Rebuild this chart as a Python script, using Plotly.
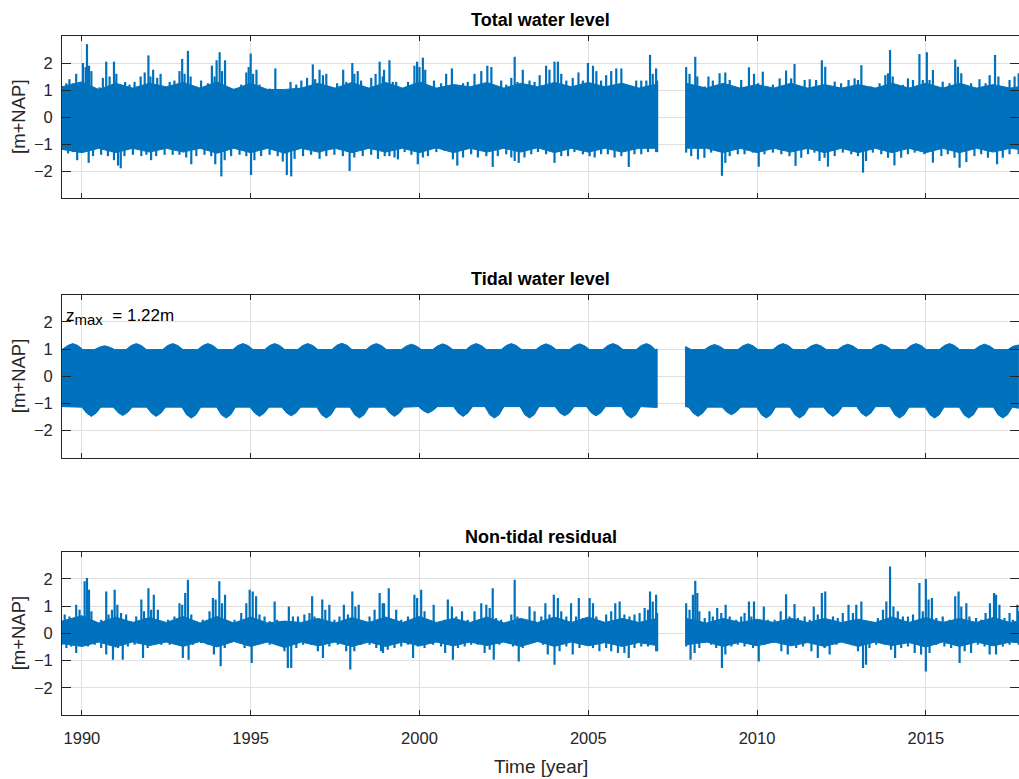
import plotly.graph_objects as go

# ---------------- data ----------------
# Envelope readings of the dense hourly series; None marks the data gap (2007-2008)
# Panel 1: total water level [m+NAP] -- local maxima / minima
total_up_t = [1989.41, 1989.54, 1989.63, 1989.73, 1989.83, 1989.93, 1990.03, 1990.11, 1990.15, 1990.21,
              1990.28, 1990.38, 1990.52, 1990.62, 1990.72, 1990.82, 1990.95, 1991.02, 1991.12, 1991.28,
              1991.41, 1991.56, 1991.74, 1991.86, 1991.97, 1992.03, 1992.11, 1992.23, 1992.33, 1992.40,
              1992.60, 1992.74, 1992.89, 1992.97, 1993.04, 1993.14, 1993.22, 1993.34, 1993.53, 1993.73,
              1993.85, 1993.93, 1993.99, 1994.08, 1994.15, 1994.24, 1994.32, 1994.52, 1994.72, 1994.87,
              1994.94, 1995.00, 1995.07, 1995.17, 1995.26, 1995.36, 1995.56, 1995.73, 1995.80, 1996.00,
              1996.18, 1996.35, 1996.50, 1996.67, 1996.84, 1996.91, 1997.04, 1997.14, 1997.24, 1997.38,
              1997.56, 1997.74, 1997.83, 1998.01, 1998.07, 1998.17, 1998.27, 1998.42, 1998.57, 1998.70,
              1998.82, 1998.91, 1998.95, 1999.11, 1999.21, 1999.31, 1999.46, 1999.66, 1999.85, 1999.93,
              2000.00, 2000.10, 2000.17, 2000.30, 2000.43, 2000.64, 2000.79, 2000.96, 2001.09, 2001.29,
              2001.43, 2001.63, 2001.83, 2002.01, 2002.13, 2002.24, 2002.42, 2002.57, 2002.72, 2002.82,
              2002.90, 2003.06, 2003.26, 2003.41, 2003.56, 2003.75, 2003.85, 2004.00, 2004.10, 2004.20,
              2004.35, 2004.54, 2004.71, 2004.84, 2004.99, 2005.14, 2005.24, 2005.38, 2005.53, 2005.68,
              2005.83, 2005.98, 2006.12, 2006.27, 2006.42, 2006.57, 2006.72, 2006.83, 2006.91, 2007.01,
              2007.04, None,
              2007.90, 2008.00, 2008.17, 2008.23, 2008.34, 2008.45, 2008.56, 2008.69, 2008.89, 2009.06,
              2009.19, 2009.33, 2009.53, 2009.76, 2009.91, 2010.03, 2010.17, 2010.27, 2010.47, 2010.67,
              2010.86, 2011.01, 2011.11, 2011.21, 2011.41, 2011.56, 2011.75, 2011.92, 2012.02, 2012.10,
              2012.30, 2012.49, 2012.71, 2012.89, 2012.99, 2013.09, 2013.18, 2013.38, 2013.63, 2013.80,
              2013.88, 2013.94, 2014.02, 2014.17, 2014.32, 2014.47, 2014.62, 2014.81, 2014.91, 2015.03,
              2015.11, 2015.21, 2015.31, 2015.50, 2015.70, 2015.87, 2015.95, 2016.05, 2016.15, 2016.34,
              2016.59, 2016.77, 2016.89, 2017.05, 2017.15, 2017.28, 2017.48, 2017.63, 2017.75]
total_up = [1.05, 1.25, 1.40, 1.25, 1.60, 1.30, 2.00, 1.85, 2.70, 1.90,
            1.70, 1.00, 1.10, 1.45, 2.05, 1.50, 2.05, 1.60, 0.95, 1.30,
            1.20, 1.30, 1.50, 1.65, 2.28, 1.50, 1.75, 1.45, 1.60, 1.05,
            1.30, 1.35, 1.70, 2.15, 1.60, 2.45, 1.50, 1.10, 1.35, 1.25,
            1.90, 1.50, 2.10, 2.40, 1.70, 2.10, 1.10, 1.05, 1.20, 1.65,
            1.85, 2.35, 1.60, 1.75, 1.20, 1.00, 1.05, 1.80, 1.00, 0.95,
            1.30, 1.20, 1.35, 1.45, 1.95, 1.40, 1.75, 1.55, 1.60, 1.10,
            1.25, 1.75, 1.30, 2.00, 1.60, 1.70, 1.35, 1.10, 1.45, 1.60,
            2.05, 1.50, 1.75, 2.10, 1.30, 1.30, 1.05, 1.30, 1.90, 2.05,
            1.85, 2.20, 1.75, 0.80, 1.35, 1.25, 1.60, 1.80, 1.20, 1.25,
            1.30, 1.60, 1.70, 1.90, 1.85, 1.10, 1.35, 1.20, 1.45, 2.23,
            1.30, 1.75, 1.35, 1.30, 1.55, 1.90, 1.75, 2.05, 2.05, 1.60,
            1.35, 1.45, 1.65, 1.35, 2.00, 1.90, 1.70, 1.35, 1.55, 1.70,
            1.80, 1.80, 1.10, 1.10, 1.35, 1.35, 1.35, 2.30, 1.60, 1.80,
            1.35, None,
            1.85, 1.60, 2.23, 1.50, 0.90, 1.13, 1.50, 1.35, 1.62, 1.65,
            1.37, 1.07, 1.37, 1.84, 1.60, 1.25, 1.68, 1.07, 1.20, 1.43,
            1.72, 1.43, 1.96, 1.07, 1.37, 1.40, 1.37, 2.10, 1.86, 0.76,
            1.31, 1.25, 1.37, 1.43, 1.37, 1.92, 1.07, 1.13, 1.25, 1.55,
            1.62, 2.48, 1.50, 1.19, 1.19, 1.43, 1.37, 2.33, 1.37, 2.40,
            1.37, 1.74, 1.13, 1.31, 1.25, 2.13, 1.86, 1.62, 1.19, 1.25,
            1.40, 1.25, 1.55, 2.30, 1.50, 1.13, 1.37, 1.50, 1.62]
total_lo_t = [1989.41, 1989.59, 1989.73, 1989.86, 1990.03, 1990.20, 1990.33, 1990.57, 1990.77, 1990.95,
              1991.07, 1991.15, 1991.26, 1991.51, 1991.76, 1991.91, 1992.05, 1992.20, 1992.45, 1992.69,
              1992.89, 1993.09, 1993.24, 1993.39, 1993.63, 1993.83, 1993.95, 1994.13, 1994.23, 1994.42,
              1994.67, 1994.87, 1995.01, 1995.11, 1995.31, 1995.56, 1995.80, 1995.95, 1996.07, 1996.20,
              1996.30, 1996.55, 1996.79, 1997.04, 1997.24, 1997.48, 1997.73, 1997.93, 1998.07, 1998.32,
              1998.57, 1998.77, 1998.97, 1999.11, 1999.26, 1999.36, 1999.56, 1999.76, 1999.95, 2000.10,
              2000.25, 2000.50, 2000.74, 2000.99, 2001.12, 2001.29, 2001.53, 2001.73, 2001.98, 2002.17,
              2002.32, 2002.57, 2002.72, 2002.82, 2002.94, 2003.11, 2003.31, 2003.51, 2003.75, 2004.00,
              2004.20, 2004.40, 2004.59, 2004.84, 2005.04, 2005.19, 2005.38, 2005.58, 2005.78, 2005.98,
              2006.20, 2006.37, 2006.57, 2006.77, 2007.01, 2007.04, None,
              2007.90, 2008.05, 2008.25, 2008.44, 2008.64, 2008.79, 2008.96, 2009.06, 2009.19, 2009.43,
              2009.63, 2009.88, 2010.05, 2010.22, 2010.47, 2010.72, 2010.96, 2011.14, 2011.31, 2011.51,
              2011.70, 2011.85, 2012.00, 2012.10, 2012.30, 2012.54, 2012.79, 2012.99, 2013.14, 2013.23,
              2013.43, 2013.68, 2013.88, 2014.07, 2014.27, 2014.47, 2014.67, 2014.96, 2015.21, 2015.46,
              2015.65, 2015.85, 2016.00, 2016.20, 2016.44, 2016.64, 2016.84, 2017.11, 2017.28, 2017.48,
              2017.75]
total_lo = [-1.20, -1.35, -1.30, -1.60, -1.30, -1.70, -1.45, -1.40, -1.45, -1.60,
            -1.80, -1.90, -1.45, -1.40, -1.45, -1.40, -1.60, -1.45, -1.40, -1.40,
            -1.40, -1.50, -1.75, -1.45, -1.40, -1.45, -1.75, -2.20, -1.60, -1.45,
            -1.40, -1.45, -2.15, -1.60, -1.45, -1.40, -1.45, -1.65, -2.15, -2.20,
            -1.55, -1.45, -1.40, -1.55, -1.45, -1.40, -1.45, -2.00, -1.50, -1.45,
            -1.40, -1.55, -1.45, -1.45, -1.50, -1.57, -1.30, -1.40, -1.75, -1.50,
            -1.45, -1.30, -1.25, -1.57, -1.80, -1.50, -1.38, -1.50, -1.45, -1.85,
            -1.45, -1.38, -1.50, -1.63, -1.70, -1.50, -1.38, -1.30, -1.38, -1.70,
            -1.45, -1.45, -1.30, -1.38, -1.45, -1.50, -1.38, -1.38, -1.50, -1.45,
            -1.85, -1.38, -1.38, -1.30, -1.30, -1.30, None,
            -1.32, -1.45, -1.57, -1.51, -1.32, -1.26, -2.18, -1.70, -1.45, -1.38,
            -1.38, -1.32, -1.84, -1.38, -1.32, -1.38, -1.45, -1.81, -1.51, -1.38,
            -1.32, -1.63, -1.51, -1.84, -1.45, -1.32, -1.38, -1.45, -2.06, -1.63,
            -1.32, -1.38, -1.51, -1.79, -1.51, -1.38, -1.32, -1.38, -1.69, -1.45,
            -1.38, -1.51, -1.88, -1.67, -1.45, -1.38, -1.51, -1.75, -1.51, -1.38,
            -1.38]
# dense (solid-looking) part of the total water level band, winter / summer
total_core_t = [1989.41, 1990.0, 1990.5, 1991.0, 1991.5, 1992.0, 1992.5, 1993.0, 1993.5, 1994.0,
                1994.5, 1995.0, 1995.5, 1996.0, 1996.5, 1997.0, 1997.5, 1998.0, 1998.5, 1999.0,
                1999.5, 2000.0, 2000.5, 2001.0, 2001.5, 2002.0, 2002.5, 2003.0, 2003.5, 2004.0,
                2004.5, 2005.0, 2005.5, 2006.0, 2006.5, 2007.04, None,
                2007.90, 2008.5, 2009.0, 2009.5, 2010.0, 2010.5, 2011.0, 2011.5, 2012.0, 2012.5,
                2013.0, 2013.5, 2014.0, 2014.5, 2015.0, 2015.5, 2016.0, 2016.5, 2017.0, 2017.5, 2017.75]
total_core_up = [1.12, 1.30, 1.02, 1.25, 1.07, 1.25, 1.12, 1.28, 1.07, 1.30,
                 1.02, 1.25, 1.02, 1.02, 1.07, 1.25, 1.07, 1.28, 1.07, 1.28,
                 1.07, 1.30, 1.07, 1.20, 1.12, 1.28, 1.07, 1.25, 1.12, 1.28,
                 1.12, 1.28, 1.12, 1.25, 1.07, 1.22, None,
                 1.25, 1.07, 1.25, 1.07, 1.20, 1.07, 1.25, 1.07, 1.20, 1.07,
                 1.20, 1.07, 1.25, 1.07, 1.25, 1.07, 1.25, 1.07, 1.20, 1.07, 1.12]
total_core_lo = [-1.20, -1.32, -1.16, -1.32, -1.16, -1.30, -1.16, -1.30, -1.16, -1.34,
                 -1.16, -1.32, -1.16, -1.34, -1.16, -1.30, -1.16, -1.32, -1.16, -1.30,
                 -1.16, -1.32, -1.14, -1.32, -1.16, -1.30, -1.16, -1.30, -1.14, -1.32,
                 -1.16, -1.30, -1.16, -1.30, -1.16, -1.16, None,
                 -1.16, -1.16, -1.32, -1.16, -1.32, -1.16, -1.30, -1.16, -1.32, -1.16,
                 -1.32, -1.16, -1.32, -1.16, -1.32, -1.16, -1.32, -1.16, -1.30, -1.16, -1.20]

# Panel 2: tidal water level [m+NAP] -- upper / lower envelope
tide_up_t = [1989.41, 1989.58, 1989.73, 1989.88, 1990.03,
             1990.37, 1990.52, 1990.67, 1990.82, 1990.97,
             1991.31, 1991.46, 1991.61, 1991.76, 1991.91,
             1992.39, 1992.54, 1992.69, 1992.84, 1992.99,
             1993.43, 1993.58, 1993.73, 1993.88, 1994.03,
             1994.47, 1994.62, 1994.77, 1994.92, 1995.07,
             1995.41, 1995.56, 1995.71, 1995.86, 1996.01,
             1996.39, 1996.54, 1996.69, 1996.84, 1996.99,
             1997.40, 1997.55, 1997.70, 1997.85, 1998.00,
             1998.42, 1998.57, 1998.72, 1998.87, 1999.02,
             1999.46, 1999.61, 1999.76, 1999.91, 2000.06,
             2000.39, 2000.54, 2000.69, 2000.84, 2000.99,
             2001.38, 2001.53, 2001.68, 2001.83, 2001.98,
             2002.42, 2002.57, 2002.72, 2002.87, 2003.02,
             2003.45, 2003.60, 2003.75, 2003.90, 2004.05,
             2004.44, 2004.59, 2004.74, 2004.89, 2005.04,
             2005.43, 2005.58, 2005.73, 2005.88, 2006.03,
             2006.42, 2006.57, 2006.72, 2006.86, 2006.98, 2007.04, None,
             2007.88, 2008.05,
             2008.44, 2008.59, 2008.74, 2008.89, 2009.04,
             2009.43, 2009.58, 2009.73, 2009.88, 2010.03,
             2010.47, 2010.62, 2010.77, 2010.92, 2011.07,
             2011.45, 2011.60, 2011.75, 2011.90, 2012.05,
             2012.39, 2012.54, 2012.69, 2012.84, 2012.99,
             2013.38, 2013.53, 2013.68, 2013.83, 2013.98,
             2014.41, 2014.56, 2014.71, 2014.86, 2015.01,
             2015.40, 2015.55, 2015.70, 2015.85, 2016.00,
             2016.44, 2016.59, 2016.74, 2016.89, 2017.04,
             2017.43, 2017.58, 2017.75]
tide_up = [0.98, 1.13, 1.20, 1.13, 0.98,
           0.98, 1.07, 1.12, 1.07, 0.98,
           0.98, 1.13, 1.20, 1.13, 0.98,
           0.98, 1.13, 1.20, 1.13, 0.98,
           0.98, 1.13, 1.20, 1.13, 0.98,
           0.98, 1.13, 1.20, 1.13, 0.98,
           0.98, 1.13, 1.20, 1.13, 0.98,
           0.98, 1.13, 1.20, 1.13, 0.98,
           0.98, 1.14, 1.21, 1.14, 0.98,
           0.98, 1.13, 1.20, 1.13, 0.98,
           0.98, 1.11, 1.18, 1.11, 0.98,
           0.98, 1.12, 1.19, 1.12, 0.98,
           0.98, 1.13, 1.20, 1.13, 0.98,
           0.98, 1.13, 1.20, 1.13, 0.98,
           0.98, 1.12, 1.19, 1.12, 0.98,
           0.98, 1.12, 1.19, 1.12, 0.98,
           0.98, 1.13, 1.20, 1.13, 0.98,
           0.98, 1.13, 1.20, 1.13, 0.98, 1.00, None,
           1.09, 0.98,
           0.98, 1.10, 1.17, 1.10, 0.98,
           0.98, 1.12, 1.19, 1.12, 0.98,
           0.98, 1.13, 1.20, 1.13, 0.98,
           0.98, 1.11, 1.18, 1.11, 0.98,
           0.98, 1.11, 1.18, 1.11, 0.98,
           0.98, 1.11, 1.18, 1.11, 0.98,
           0.98, 1.13, 1.20, 1.13, 0.98,
           0.98, 1.13, 1.20, 1.13, 0.98,
           0.98, 1.11, 1.18, 1.11, 0.98,
           0.98, 1.10, 1.15]
tide_lo_t = [1989.41, 1989.75,
             1990.00, 1990.14, 1990.28, 1990.42, 1990.56,
             1990.93, 1991.07, 1991.21, 1991.35, 1991.49,
             1991.92, 1992.06, 1992.20, 1992.34, 1992.48,
             1992.96, 1993.10, 1993.24, 1993.38, 1993.52,
             1993.99, 1994.13, 1994.27, 1994.41, 1994.55,
             1994.98, 1995.12, 1995.26, 1995.40, 1995.54,
             1995.92, 1996.06, 1996.20, 1996.34, 1996.48,
             1996.96, 1997.10, 1997.24, 1997.38, 1997.52,
             1997.94, 1998.08, 1998.22, 1998.36, 1998.50,
             1998.98, 1999.12, 1999.26, 1999.40, 1999.54,
             1999.97, 2000.11, 2000.25, 2000.39, 2000.53,
             2001.01, 2001.15, 2001.29, 2001.43, 2001.57,
             2001.94, 2002.08, 2002.22, 2002.36, 2002.50,
             2002.98, 2003.12, 2003.26, 2003.40, 2003.54,
             2004.02, 2004.16, 2004.30, 2004.44, 2004.58,
             2004.95, 2005.09, 2005.23, 2005.37, 2005.51,
             2005.99, 2006.13, 2006.27, 2006.41, 2006.55,
             2007.04, None,
             2007.88,
             2007.97, 2008.11, 2008.25, 2008.39, 2008.53,
             2008.96, 2009.10, 2009.24, 2009.38, 2009.52,
             2009.99, 2010.13, 2010.27, 2010.41, 2010.55,
             2010.98, 2011.12, 2011.26, 2011.40, 2011.54,
             2011.97, 2012.11, 2012.25, 2012.39, 2012.53,
             2012.95, 2013.09, 2013.23, 2013.37, 2013.51,
             2013.94, 2014.08, 2014.22, 2014.36, 2014.50,
             2014.98, 2015.12, 2015.26, 2015.40, 2015.54,
             2015.99, 2016.13, 2016.27, 2016.41, 2016.55,
             2017.00, 2017.14, 2017.28, 2017.42, 2017.56,
             2017.75]
tide_lo = [-1.12, -1.14,
           -1.14, -1.36, -1.48, -1.36, -1.14,
           -1.14, -1.34, -1.45, -1.34, -1.14,
           -1.14, -1.36, -1.48, -1.36, -1.14,
           -1.14, -1.42, -1.54, -1.42, -1.14,
           -1.14, -1.42, -1.54, -1.42, -1.14,
           -1.14, -1.36, -1.48, -1.36, -1.14,
           -1.14, -1.35, -1.46, -1.35, -1.14,
           -1.14, -1.42, -1.54, -1.42, -1.14,
           -1.14, -1.42, -1.54, -1.42, -1.14,
           -1.14, -1.36, -1.48, -1.36, -1.14,
           -1.12, -1.27, -1.36, -1.27, -1.12,
           -1.12, -1.36, -1.48, -1.36, -1.12,
           -1.12, -1.42, -1.54, -1.42, -1.12,
           -1.12, -1.42, -1.54, -1.42, -1.12,
           -1.12, -1.35, -1.46, -1.35, -1.12,
           -1.12, -1.35, -1.46, -1.35, -1.12,
           -1.12, -1.42, -1.54, -1.42, -1.12,
           -1.15, None,
           -1.12,
           -1.14, -1.36, -1.48, -1.36, -1.14,
           -1.14, -1.32, -1.42, -1.32, -1.14,
           -1.14, -1.42, -1.54, -1.42, -1.14,
           -1.14, -1.42, -1.54, -1.42, -1.14,
           -1.14, -1.36, -1.48, -1.36, -1.12,
           -1.12, -1.36, -1.48, -1.36, -1.12,
           -1.12, -1.42, -1.54, -1.42, -1.14,
           -1.14, -1.42, -1.54, -1.42, -1.14,
           -1.14, -1.42, -1.54, -1.42, -1.14,
           -1.14, -1.42, -1.54, -1.42, -1.14,
           -1.18]

# Panel 3: non-tidal residual -- local maxima / minima
resid_up_t = [1989.41, 1989.49, 1989.63, 1989.73, 1989.83, 1989.93, 1990.08, 1990.15, 1990.21, 1990.28,
              1990.38, 1990.57, 1990.72, 1990.79, 1990.89, 1990.97, 1991.05, 1991.16, 1991.31, 1991.46,
              1991.61, 1991.76, 1991.84, 1991.97, 1992.05, 1992.13, 1992.25, 1992.37, 1992.55, 1992.74,
              1992.89, 1992.97, 1993.06, 1993.14, 1993.24, 1993.39, 1993.58, 1993.78, 1993.88, 1993.96,
              1994.07, 1994.15, 1994.24, 1994.34, 1994.52, 1994.72, 1994.87, 1994.97, 1995.06, 1995.16,
              1995.26, 1995.41, 1995.56, 1995.71, 1995.78, 1995.95, 1996.13, 1996.25, 1996.40, 1996.59,
              1996.74, 1996.82, 1996.89, 1996.99, 1997.12, 1997.21, 1997.33, 1997.48, 1997.63, 1997.76,
              1997.88, 1998.01, 1998.10, 1998.20, 1998.32, 1998.52, 1998.67, 1998.82, 1998.91, 1998.95,
              1999.09, 1999.21, 1999.31, 1999.46, 1999.66, 1999.85, 1999.93, 2000.05, 2000.15, 2000.30,
              2000.42, 2000.55, 2000.74, 2000.84, 2000.96, 2001.09, 2001.26, 2001.43, 2001.63, 2001.83,
              2001.98, 2002.08, 2002.17, 2002.27, 2002.42, 2002.57, 2002.72, 2002.82, 2002.90, 2003.06,
              2003.26, 2003.41, 2003.61, 2003.73, 2003.85, 2003.98, 2004.10, 2004.20, 2004.35, 2004.49,
              2004.64, 2004.72, 2004.84, 2005.04, 2005.14, 2005.24, 2005.38, 2005.53, 2005.68, 2005.80,
              2005.93, 2006.07, 2006.22, 2006.37, 2006.52, 2006.67, 2006.77, 2006.83, 2006.91, 2007.01,
              2007.04, None,
              2007.90, 2008.00, 2008.10, 2008.17, 2008.23, 2008.29, 2008.45, 2008.59, 2008.69, 2008.82,
              2008.94, 2009.07, 2009.19, 2009.38, 2009.53, 2009.63, 2009.76, 2009.83, 2009.91, 2010.03,
              2010.20, 2010.32, 2010.52, 2010.70, 2010.86, 2010.96, 2011.11, 2011.21, 2011.41, 2011.56,
              2011.68, 2011.80, 2011.92, 2012.02, 2012.10, 2012.25, 2012.39, 2012.54, 2012.71, 2012.84,
              2012.94, 2013.09, 2013.18, 2013.38, 2013.58, 2013.73, 2013.83, 2013.94, 2014.04, 2014.17,
              2014.32, 2014.47, 2014.62, 2014.81, 2014.91, 2015.00, 2015.08, 2015.18, 2015.31, 2015.50,
              2015.70, 2015.87, 2015.97, 2016.05, 2016.20, 2016.29, 2016.49, 2016.64, 2016.77, 2016.90,
              2017.02, 2017.08, 2017.18, 2017.33, 2017.48, 2017.58, 2017.71, 2017.75]
resid_up = [0.44, 0.69, 0.62, 0.50, 1.05, 0.87, 1.91, 2.03, 1.60, 0.81,
            0.38, 0.50, 1.54, 0.69, 0.87, 1.60, 1.05, 0.75, 0.69, 0.44,
            0.62, 1.24, 0.81, 1.66, 0.87, 1.42, 0.87, 0.38, 0.50, 0.62,
            1.11, 1.05, 1.48, 1.97, 0.69, 0.44, 0.50, 0.81, 1.30, 1.24,
            1.91, 1.11, 1.42, 0.44, 0.50, 0.75, 1.11, 1.60, 1.54, 1.36,
            0.69, 0.62, 0.44, 1.17, 0.50, 0.38, 0.99, 0.62, 0.62, 0.69,
            0.75, 1.36, 0.62, 0.44, 1.24, 0.87, 1.05, 0.50, 0.62, 1.05,
            0.69, 1.54, 0.99, 1.05, 0.44, 0.62, 0.87, 1.48, 1.11, 1.11,
            1.66, 0.50, 0.87, 0.50, 0.62, 1.42, 1.30, 1.60, 0.81, 0.38,
            1.05, 0.38, 0.50, 1.24, 0.99, 0.62, 0.81, 0.50, 0.81, 1.11,
            1.05, 0.93, 1.66, 0.56, 0.50, 0.38, 0.69, 1.97, 0.62, 0.50,
            0.99, 0.81, 0.62, 1.11, 0.69, 1.42, 1.30, 0.81, 0.62, 1.11,
            0.62, 1.30, 0.56, 1.30, 1.11, 0.62, 0.44, 0.69, 0.81, 1.11,
            1.17, 0.69, 0.62, 0.69, 0.75, 0.93, 0.87, 1.54, 1.17, 1.42,
            0.75, None,
            1.11, 0.87, 1.42, 1.93, 1.48, 0.81, 0.56, 0.81, 0.62, 0.93,
            0.75, 1.05, 0.62, 0.50, 0.62, 0.75, 1.17, 0.62, 1.17, 0.44,
            0.99, 0.50, 0.50, 0.81, 1.44, 0.62, 1.08, 0.56, 0.62, 0.50,
            0.99, 0.69, 1.48, 1.54, 0.13, 0.62, 0.56, 0.75, 1.05, 0.75,
            1.05, 1.17, 0.44, 0.38, 0.56, 0.87, 1.17, 2.46, 0.99, 0.81,
            0.62, 0.62, 0.69, 1.85, 0.81, 2.00, 1.24, 1.30, 0.56, 0.62,
            0.50, 1.36, 1.54, 0.99, 1.11, 0.62, 0.56, 0.50, 0.75, 1.11,
            1.48, 1.42, 1.05, 0.56, 0.75, 0.50, 1.05, 0.81]
resid_lo_t = [1989.41, 1989.54, 1989.68, 1989.83, 1989.98, 1990.18, 1990.38, 1990.57, 1990.72, 1990.82,
              1990.92, 1991.07, 1991.21, 1991.36, 1991.56, 1991.81, 1991.95, 1992.15, 1992.35, 1992.60,
              1992.79, 1992.99, 1993.16, 1993.29, 1993.53, 1993.73, 1993.91, 1994.11, 1994.23, 1994.42,
              1994.62, 1994.82, 1995.03, 1995.16, 1995.36, 1995.56, 1995.80, 1996.00, 1996.10, 1996.20,
              1996.35, 1996.55, 1996.79, 1996.99, 1997.14, 1997.33, 1997.58, 1997.83, 1997.95, 1998.07,
              1998.27, 1998.52, 1998.72, 1998.86, 1998.92, 1999.06, 1999.26, 1999.46, 1999.66, 1999.81,
              1999.95, 2000.15, 2000.40, 2000.64, 2000.76, 2000.99, 2001.14, 2001.34, 2001.53, 2001.73,
              2001.93, 2002.08, 2002.20, 2002.37, 2002.57, 2002.77, 2002.94, 2003.06, 2003.31, 2003.51,
              2003.66, 2003.80, 2004.00, 2004.15, 2004.35, 2004.54, 2004.74, 2004.94, 2005.14, 2005.33,
              2005.53, 2005.68, 2005.88, 2006.07, 2006.20, 2006.37, 2006.57, 2006.77, 2007.01, 2007.04, None,
              2007.90, 2008.03, 2008.15, 2008.29, 2008.45, 2008.64, 2008.79, 2008.96, 2009.06, 2009.24,
              2009.43, 2009.63, 2009.88, 2010.05, 2010.22, 2010.47, 2010.72, 2010.91, 2011.16, 2011.36,
              2011.61, 2011.80, 2012.00, 2012.15, 2012.35, 2012.59, 2012.84, 2012.99, 2013.14, 2013.23,
              2013.33, 2013.53, 2013.78, 2013.97, 2014.09, 2014.27, 2014.47, 2014.67, 2014.86, 2015.00,
              2015.11, 2015.31, 2015.55, 2015.75, 2016.00, 2016.15, 2016.34, 2016.54, 2016.74, 2016.89,
              2017.08, 2017.28, 2017.48, 2017.63, 2017.75]
resid_lo = [-0.42, -0.54, -0.48, -0.72, -0.42, -0.48, -0.42, -0.54, -0.78, -0.42,
            -0.97, -0.54, -0.97, -0.48, -0.42, -0.91, -0.54, -0.42, -0.42, -0.42,
            -0.42, -0.91, -0.97, -0.42, -0.35, -0.42, -0.78, -1.21, -0.54, -0.29,
            -0.29, -0.54, -1.09, -0.42, -0.35, -0.42, -0.42, -0.66, -1.27, -1.27,
            -0.54, -0.42, -0.42, -0.66, -0.91, -0.48, -0.42, -0.66, -1.33, -0.66,
            -0.42, -0.42, -0.54, -0.66, -0.72, -0.60, -0.54, -0.48, -0.42, -0.91,
            -0.48, -0.54, -0.42, -0.48, -0.72, -0.97, -0.54, -0.48, -0.42, -0.42,
            -0.72, -0.60, -0.97, -0.42, -0.35, -0.48, -1.03, -0.54, -0.35, -0.29,
            -0.42, -0.78, -1.15, -0.66, -0.48, -0.78, -0.54, -0.42, -0.54, -0.66,
            -0.54, -0.66, -0.72, -0.72, -0.91, -0.54, -0.48, -0.48, -0.66, -0.66, None,
            -0.48, -0.97, -0.72, -0.54, -0.35, -0.42, -0.54, -1.27, -0.78, -0.48,
            -0.42, -0.48, -0.54, -1.03, -0.42, -0.35, -0.66, -0.78, -0.54, -0.48,
            -0.66, -0.91, -0.54, -0.78, -0.42, -0.35, -0.42, -0.66, -1.27, -1.15,
            -0.54, -0.42, -0.42, -0.60, -0.91, -0.54, -0.48, -0.72, -0.78, -1.40,
            -0.72, -0.42, -0.48, -0.54, -1.09, -0.66, -0.72, -0.42, -0.48, -0.78,
            -0.78, -0.48, -0.42, -0.35, -0.42]
# dense (solid-looking) part of the residual band, winter / summer
resid_core_t = [1989.41, 1990.0, 1990.5, 1991.0, 1991.5, 1992.0, 1992.5, 1993.0, 1993.5, 1994.0,
                1994.5, 1995.0, 1995.5, 1996.0, 1996.5, 1997.0, 1997.5, 1998.0, 1998.5, 1999.0,
                1999.5, 2000.0, 2000.5, 2001.0, 2001.5, 2002.0, 2002.5, 2003.0, 2003.5, 2004.0,
                2004.5, 2005.0, 2005.5, 2006.0, 2006.5, 2007.04, None,
                2007.90, 2008.5, 2009.0, 2009.5, 2010.0, 2010.5, 2011.0, 2011.5, 2012.0, 2012.5,
                2013.0, 2013.5, 2014.0, 2014.5, 2015.0, 2015.5, 2016.0, 2016.5, 2017.0, 2017.5, 2017.75]
resid_core_up = [0.45, 0.65, 0.38, 0.60, 0.40, 0.58, 0.40, 0.62, 0.38, 0.62,
                 0.38, 0.60, 0.38, 0.45, 0.40, 0.55, 0.38, 0.58, 0.40, 0.60,
                 0.40, 0.62, 0.40, 0.55, 0.40, 0.60, 0.38, 0.55, 0.40, 0.60,
                 0.40, 0.60, 0.40, 0.55, 0.40, 0.55, None,
                 0.55, 0.38, 0.55, 0.40, 0.52, 0.40, 0.55, 0.40, 0.55, 0.40,
                 0.52, 0.40, 0.60, 0.40, 0.58, 0.40, 0.55, 0.40, 0.58, 0.40, 0.45]
resid_core_lo = [-0.38, -0.48, -0.32, -0.50, -0.32, -0.45, -0.32, -0.48, -0.30, -0.50,
                 -0.30, -0.48, -0.32, -0.52, -0.32, -0.46, -0.32, -0.48, -0.32, -0.48,
                 -0.32, -0.46, -0.32, -0.46, -0.32, -0.45, -0.32, -0.48, -0.30, -0.48,
                 -0.32, -0.46, -0.34, -0.48, -0.34, -0.45, None,
                 -0.42, -0.32, -0.48, -0.32, -0.46, -0.32, -0.46, -0.34, -0.48, -0.32,
                 -0.48, -0.32, -0.45, -0.34, -0.50, -0.32, -0.48, -0.32, -0.46, -0.32, -0.34]

panel_titles = ["Total water level", "Tidal water level", "Non-tidal residual"]
year_ticks = [1990, 1995, 2000, 2005, 2010, 2015]
level_ticks = [-2, -1, 0, 1, 2]
x_range = [1989.41, 2017.76]
y_range = [-3, 3]
zmax_text = "z<sub><span style='font-size:15px'>max</span></sub>  = 1.22m"

# ---------------- helpers ----------------
def split(t, v):
    segs, ct, cv = [], [], []
    for a, b in zip(t, v):
        if a is None:
            segs.append((ct, cv))
            ct, cv = [], []
        else:
            ct.append(a)
            cv.append(b)
    segs.append((ct, cv))
    return segs


def band(up_t, up_v, lo_t, lo_v):
    xs, ys = [], []
    for (ut, uv), (lt, lv) in zip(split(up_t, up_v), split(lo_t, lo_v)):
        xs += ut + lt[::-1] + [ut[0], None]
        ys += uv + lv[::-1] + [uv[0], None]
    return xs, ys


def needles(*pairs):
    xs, ys = [], []
    for t, v in pairs:
        for a, b in zip(t, v):
            if a is None:
                continue
            xs += [a, a, None]
            ys += [0, b, None]
    return xs, ys


BLUE = "#0072BD"
AX = "#262626"
GRID = "#dfdfdf"
FONT = "Liberation Sans, Arial, Helvetica, sans-serif"

fig = go.Figure()


def add_fill(xs, ys, sfx):
    fig.add_trace(go.Scatter(x=xs, y=ys, mode="lines", fill="toself",
                             fillcolor=BLUE, line=dict(color=BLUE, width=1),
                             xaxis="x" + sfx, yaxis="y" + sfx,
                             hoverinfo="skip", showlegend=False))


def add_needles(xs, ys, sfx):
    fig.add_trace(go.Scatter(x=xs, y=ys, mode="lines",
                             line=dict(color=BLUE, width=2.2),
                             xaxis="x" + sfx, yaxis="y" + sfx,
                             hoverinfo="skip", showlegend=False))


# panel 1
add_fill(*band(total_core_t, total_core_up, total_core_t, total_core_lo), "")
add_needles(*needles((total_up_t, total_up), (total_lo_t, total_lo)), "")
# panel 2
add_fill(*band(tide_up_t, tide_up, tide_lo_t, tide_lo), "2")
# panel 3
add_fill(*band(resid_core_t, resid_core_up, resid_core_t, resid_core_lo), "3")
add_needles(*needles((resid_up_t, resid_up), (resid_lo_t, resid_lo)), "3")

# layout geometry (pixels -> paper)
W, H = 1019, 779
ML, MR, MT, MB = 62, 0, 36, 64
PH = H - MT - MB


def py(p):
    return (H - MB - p) / PH


domains = [[py(198), 1.0], [py(457.7), py(294.7)], [0.0, py(551.7)]]

layout = dict(width=W, height=H, margin=dict(l=ML, r=MR, t=MT, b=MB),
              paper_bgcolor="white", plot_bgcolor="white",
              font=dict(family=FONT, color=AX, size=16))
for i in range(3):
    sfx = "" if i == 0 else str(i + 1)
    layout["xaxis" + sfx] = dict(domain=[0, 1], anchor="y" + sfx, range=x_range,
                                 tickvals=year_ticks, showticklabels=(i == 2),
                                 ticks="inside", ticklen=5, tickcolor=AX,
                                 showline=True, linecolor=AX, linewidth=1, mirror="ticks",
                                 showgrid=True, gridcolor=GRID, gridwidth=1,
                                 zeroline=False, tickfont=dict(size=16.5, color=AX),
                                 ticklabelstandoff=8)
    layout["yaxis" + sfx] = dict(domain=domains[i], anchor="x" + sfx, range=y_range,
                                 tickvals=level_ticks, ticks="inside", ticklen=9,
                                 tickcolor=AX, showline=True, linecolor=AX, linewidth=1,
                                 mirror="ticks", showgrid=True, gridcolor=GRID, gridwidth=1,
                                 zeroline=False, tickfont=dict(size=16.5, color=AX),
                                 ticklabelstandoff=5)
fig.update_layout(**layout)

ann = []
title_px = [20, 279, 537]
for i in range(3):
    ann.append(dict(text="<b>" + panel_titles[i] + "</b>", x=0.5, y=py(title_px[i]),
                    xref="paper", yref="paper", xanchor="center", yanchor="middle",
                    showarrow=False, font=dict(size=18, color="black", family=FONT)))
    ann.append(dict(text="[m+NAP]", x=-(ML - 18) / (W - ML - MR),
                    y=(domains[i][0] + domains[i][1]) / 2, xref="paper", yref="paper",
                    xanchor="center", yanchor="middle", textangle=-90, showarrow=False,
                    font=dict(size=18.5, color=AX, family=FONT)))
ann.append(dict(text="Time [year]", x=0.5, y=py(766), xref="paper", yref="paper",
                xanchor="center", yanchor="middle", showarrow=False,
                font=dict(size=19, color=AX, family=FONT)))
ann.append(dict(text=zmax_text, x=(64 - ML) / (W - ML - MR), y=py(317), xref="paper",
                yref="paper", xanchor="left", yanchor="middle", showarrow=False,
                font=dict(size=17, color="black", family=FONT)))
fig.update_layout(annotations=ann)

fig.write_html("out.html")
